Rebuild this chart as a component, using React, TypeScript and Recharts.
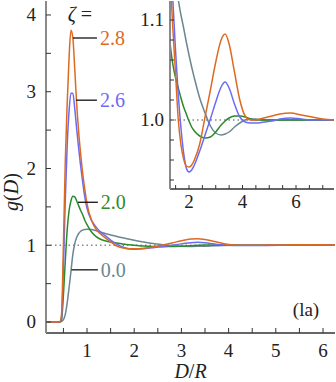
import React from 'react';
import { LineChart, Line, XAxis, YAxis, ReferenceLine, ReferenceDot, CartesianGrid } from 'recharts';

// separation D/R
const dGrid = [0, 0.42, 0.46, 0.5, 0.54, 0.58, 0.62, 0.66, 0.7, 0.74, 0.78, 0.82, 0.86, 0.9, 0.95, 1.0, 1.1, 1.2, 1.3, 1.4, 1.5, 1.6, 1.7, 1.8, 1.9, 2.0, 2.1, 2.2, 2.4, 2.6, 2.8, 3.0, 3.2, 3.35, 3.5, 3.7, 3.9, 4.1, 4.3, 4.5, 4.8, 5.1, 5.4, 5.8, 6.2, 6.6, 7.0, 7.5];

// g(D) for each zeta
const g28 = [0, 0, 0.1, 1.0, 2.1, 2.85, 3.45, 3.8, 3.7, 3.3, 2.85, 2.5, 2.22, 1.98, 1.74, 1.54, 1.32, 1.2, 1.14, 1.09, 1.045, 1.0, 0.975, 0.961, 0.954, 0.953, 0.955, 0.96, 0.976, 1.003, 1.03, 1.058, 1.08, 1.086, 1.076, 1.048, 1.02, 1.004, 1.0, 1.0, 1.002, 1.004, 1.006, 1.007, 1.005, 1.003, 1.001, 1.0];
const g26 = [0, 0, 0.05, 0.7, 1.6, 2.3, 2.75, 2.98, 2.98, 2.78, 2.52, 2.28, 2.06, 1.86, 1.64, 1.48, 1.32, 1.23, 1.165, 1.118, 1.068, 1.025, 0.992, 0.967, 0.952, 0.948, 0.95, 0.955, 0.969, 0.985, 1.001, 1.018, 1.033, 1.038, 1.032, 1.016, 1.003, 0.998, 0.997, 0.997, 0.998, 0.999, 1.001, 1.002, 1.001, 1.0, 1.0, 1.0];
const g20 = [0, 0, 0.03, 0.35, 0.8, 1.2, 1.45, 1.58, 1.64, 1.63, 1.58, 1.52, 1.46, 1.41, 1.33, 1.27, 1.17, 1.11, 1.075, 1.055, 1.042, 1.032, 1.022, 1.013, 1.006, 0.999, 0.993, 0.989, 0.984, 0.982, 0.983, 0.988, 0.995, 0.999, 1.002, 1.004, 1.004, 1.003, 1.001, 1.0, 1.0, 1.0, 1.0, 1.0, 1.0, 1.0, 1.0, 1.0];
const g00 = [0, 0, 0.01, 0.03, 0.1, 0.25, 0.45, 0.66, 0.88, 1.02, 1.1, 1.15, 1.18, 1.195, 1.205, 1.21, 1.205, 1.19, 1.17, 1.15, 1.135, 1.12, 1.105, 1.092, 1.078, 1.065, 1.053, 1.042, 1.022, 1.007, 0.994, 0.987, 0.985, 0.986, 0.988, 0.993, 0.997, 1.0, 1.001, 1.001, 1.0, 1.0, 1.0, 1.0, 1.0, 1.0, 1.0, 1.0];

const mainXTicks = [0.5, 1, 1.5, 2, 2.5, 3, 3.5, 4, 4.5, 5, 5.5, 6];
const mainYTicks = [0, 0.5, 1, 1.5, 2, 2.5, 3, 3.5, 4];
const insetXTicks = [1.5, 2, 2.5, 3, 3.5, 4, 4.5, 5, 5.5, 6, 6.5, 7];
const insetYTicks = [0.94, 0.96, 0.98, 1.0, 1.02, 1.04, 1.06, 1.08, 1.1];
const insetYLabels = [1.0, 1.1];

const series = [
  { key: 'z00', name: '0.0', color: '#6b8791', values: g00, at: [0.67, 1.23, 0.68] },
  { key: 'z20', name: '2.0', color: '#2b8a2b', values: g20, at: [0.81, 1.23, 1.56] },
  { key: 'z26', name: '2.6', color: '#6b6bf5', values: g26, at: [0.767, 1.21, 2.89] },
  { key: 'z28', name: '2.8', color: '#dd6a22', values: g28, at: [0.703, 1.21, 3.7] },
];

const rows = dGrid.map((d, i) => {
  const r: { [k: string]: number } = { D: d };
  series.forEach(s => { r[s.key] = s.values[i]; });
  return r;
});

const FONT = "'Times New Roman', 'Liberation Serif', 'DejaVu Serif', serif";

const BottomTick = (props: any) => {
  const { x, y, payload, len, gap, fs, fmt } = props;
  const label = fmt(payload.value);
  return (
    <g>
      <line x1={x} x2={x} y1={y} y2={y - len} stroke="#333" strokeWidth={1} />
      {label && <text x={x} y={y + gap} textAnchor="middle" style={{ fontFamily: FONT, fontSize: fs }} fill="#222">{label}</text>}
    </g>
  );
};

const LeftTick = (props: any) => {
  const { x, y, payload, len, gap, fs, fmt } = props;
  const label = fmt(payload.value);
  return (
    <g>
      <line x1={x} x2={x + len} y1={y} y2={y} stroke="#333" strokeWidth={1} />
      {label && <text x={x - gap} y={y + fs * 0.33} textAnchor="end" style={{ fontFamily: FONT, fontSize: fs }} fill="#222">{label}</text>}
    </g>
  );
};

const intFmt = (v: number) => (Number.isInteger(v) ? String(v) : '');
const evenFmt = (v: number) => (Number.isInteger(v) && v % 2 === 0 ? String(v) : '');
const insetYFmt = (v: number) => {
  const m = insetYLabels.find(l => Math.abs(l - v) < 1e-6);
  return m !== undefined ? m.toFixed(1) : '';
};

export default function App() {
  return (
    <div style={{ position: 'absolute', left: 0, top: 0, width: 336, height: 382, background: '#fff', fontFamily: FONT }}>
      <LineChart width={336} height={382} data={rows} margin={{ top: 1, right: 1, left: 0, bottom: 0 }} style={{ fontFamily: FONT }}>
        <XAxis
          dataKey="D" type="number" domain={[0.131, 6.254]} allowDataOverflow
          ticks={mainXTicks} interval={0} height={49} tickSize={0} tickMargin={0} tickLine={false}
          axisLine={{ stroke: '#333', strokeWidth: 1.3 }}
          tick={<BottomTick len={5} gap={24} fs={19} fmt={intFmt} />}
          label={{
            content: ({ viewBox }: any) => (
              <text x={viewBox.x + viewBox.width / 2} y={viewBox.y + 45} textAnchor="middle" style={{ fontFamily: FONT, fontSize: 20 }} fill="#222">
                <tspan fontStyle="italic">D</tspan>/<tspan fontStyle="italic">R</tspan>
              </text>
            ),
          }}
        />
        <YAxis
          type="number" domain={[-0.143, 4.182]} allowDataOverflow
          ticks={mainYTicks} interval={0} width={46} tickSize={0} tickMargin={0} tickLine={false}
          axisLine={{ stroke: '#8a8a8a', strokeWidth: 2 }}
          tick={<LeftTick len={5} gap={10} fs={19} fmt={intFmt} />}
          label={{
            content: () => (
              <text x={18} y={192} transform="rotate(-90 18 192)" textAnchor="middle" style={{ fontFamily: FONT, fontSize: 20 }} fill="#222">
                <tspan fontStyle="italic">g</tspan>(<tspan fontStyle="italic">D</tspan>)
              </text>
            ),
          }}
        />
        <XAxis xAxisId="top" orientation="top" height={0} tick={false} tickLine={false} axisLine={{ stroke: '#555', strokeWidth: 1.3 }} />
        <YAxis yAxisId="right" orientation="right" width={0} tick={false} tickLine={false} axisLine={{ stroke: '#555', strokeWidth: 1.3 }} />
        <ReferenceLine y={1} stroke="#888" strokeDasharray="1.5 3" strokeWidth={1.3} />
        {series.map(s => (
          <Line key={s.key} dataKey={s.key} type="monotone" stroke={s.color} strokeWidth={1.5} dot={false} isAnimationActive={false} />
        ))}
        {series.map(s => (
          <ReferenceLine
            key={'lab' + s.key}
            segment={[{ x: s.at[0], y: s.at[2] }, { x: s.at[1], y: s.at[2] }]}
            stroke="#111" strokeWidth={1.3}
            label={{
              content: ({ viewBox }: any) => (
                <text x={viewBox.x + viewBox.width + 3} y={viewBox.y + 7} style={{ fontFamily: FONT, fontSize: 20 }} fill={s.color}>{s.name}</text>
              ),
            }}
          />
        ))}
        <ReferenceDot
          x={0.85} y={4.0} r={0} stroke="none"
          label={{
            content: ({ viewBox }: any) => (
              <text x={viewBox.x + viewBox.width / 2} y={viewBox.y + viewBox.height / 2 + 6} textAnchor="middle" style={{ fontFamily: FONT, fontSize: 20 }} fill="#222">
                <tspan fontStyle="italic">ζ</tspan> =
              </text>
            ),
          }}
        />
        <ReferenceDot
          x={5.64} y={0.156} r={0} stroke="none"
          label={{
            content: ({ viewBox }: any) => (
              <text x={viewBox.x + viewBox.width / 2} y={viewBox.y + viewBox.height / 2 + 6} textAnchor="middle" style={{ fontFamily: FONT, fontSize: 19 }} fill="#222">(la)</text>
            ),
          }}
        />
      </LineChart>

      <div style={{ position: 'absolute', left: 130, top: 0 }}>
        <LineChart width={206} height={215} data={rows} margin={{ top: 1, right: 2, left: 0, bottom: 0 }}>
          <CartesianGrid horizontal={false} vertical={false} fill="#fff" />
          <XAxis
            dataKey="D" type="number" domain={[1.29, 7.42]} allowDataOverflow
            ticks={insetXTicks} interval={0} height={26} tickSize={0} tickMargin={0} tickLine={false}
            axisLine={{ stroke: '#333', strokeWidth: 1.3 }}
            tick={<BottomTick len={4} gap={19} fs={19} fmt={evenFmt} />}
          />
          <YAxis
            type="number" domain={[0.931, 1.119]} allowDataOverflow
            ticks={insetYTicks} interval={0} width={40} tickSize={0} tickMargin={0} tickLine={false}
            axisLine={{ stroke: '#8a8a8a', strokeWidth: 2 }}
            tick={<LeftTick len={4} gap={6} fs={19} fmt={insetYFmt} />}
          />
          <XAxis xAxisId="top" orientation="top" height={0} tick={false} tickLine={false} axisLine={{ stroke: '#555', strokeWidth: 1.3 }} />
          <YAxis yAxisId="right" orientation="right" width={0} tick={false} tickLine={false} axisLine={{ stroke: '#555', strokeWidth: 1.3 }} />
          <ReferenceLine y={1} stroke="#888" strokeDasharray="1.5 3" strokeWidth={1.3} />
          {series.map(s => (
            <Line key={s.key} dataKey={s.key} type="monotone" stroke={s.color} strokeWidth={1.5} dot={false} isAnimationActive={false} />
          ))}
        </LineChart>
      </div>
    </div>
  );
}
